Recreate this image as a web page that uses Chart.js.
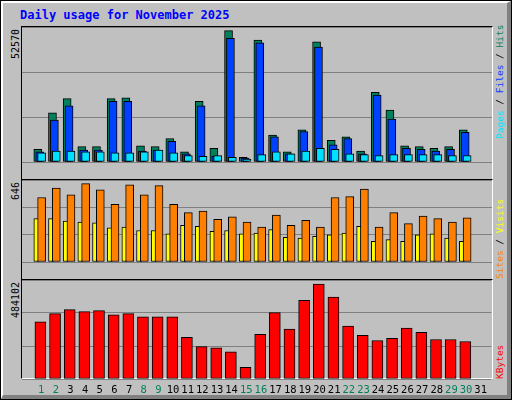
<!DOCTYPE html>
<html><head><meta charset="utf-8">
<script src="https://cdn.jsdelivr.net/npm/chart.js@4/dist/chart.umd.min.js"></script>
<style>
html,body{margin:0;padding:0;}
#wrap{position:relative;width:512px;height:400px;background:#c0c0c0;box-sizing:border-box;border:1px solid #000;overflow:hidden;font-family:"DejaVu Sans Mono",monospace;}
#bevel{position:absolute;left:0;top:0;width:510px;height:398px;box-sizing:border-box;border-top:2px solid #fff;border-left:2px solid #fff;border-right:4px solid #808080;border-bottom:4px solid #808080;}
.panel{position:absolute;left:20px;width:472px;box-sizing:border-box;border-top:1px solid #000;border-left:1px solid #000;border-right:1px solid #fff;border-bottom:1px solid #fff;}
canvas{position:absolute;}
.rot{position:absolute;transform-origin:0 0;transform:rotate(-90deg);white-space:nowrap;font-size:10px;}
.rr{font-size:9.5px;}
#title{position:absolute;left:19px;top:7px;color:#0000ff;font-weight:bold;font-size:12px;}
</style></head><body>
<div id="wrap">
<div id="bevel"></div>
<div id="title">Daily usage for November 2025</div>
<div class="panel" style="top:25px;height:154px"></div>
<div class="panel" style="top:178px;height:101px"></div>
<div class="panel" style="top:278px;height:100px"></div>
<canvas id="c1" width="470" height="152" style="left:21px;top:26px"></canvas>
<canvas id="c2" width="470" height="99" style="left:21px;top:179px"></canvas>
<canvas id="c3" width="470" height="116" style="left:21px;top:279px"></canvas>
<div class="rot" style="left:9px;top:58px">52570</div>
<div class="rot" style="left:9px;top:199px">646</div>
<div class="rot" style="left:9px;top:317px">484102</div>
<div class="rot rr" style="left:493px;top:138px"><span style="color:#00e0ff">Pages</span> / <span style="color:#0040ff">Files</span> / <span style="color:#00805c">Hits</span></div>
<div class="rot rr" style="left:493px;top:278px"><span style="color:#ff8000">Sites</span> / <span style="color:#ffff00">Visits</span></div>
<div class="rot rr" style="left:493px;top:378px"><span style="color:#ff0000">KBytes</span></div>
</div>
<script>
const days = Array.from({length:31},(_,i)=>i+1);
const weekend = [1,2,8,9,15,16,22,23,29,30];
const hits  = [5091,19654,25338,6157,6157,25338,25693,6512,6157,9354,4026,24272,5446,52570,1894,48781,10774,4026,12906,48070,8643,10064,4381,27824,20720,6512,6157,5446,6157,12906];
const files = [4026,16813,22496,4736,4736,24272,24272,4381,4736,8288,3315,22496,2250,49491,1539,47715,10064,3315,12195,45939,6867,9354,3315,26758,17168,5446,5091,4381,5091,11840];
const pages = [3670,4381,4381,4026,4026,3670,3670,4026,4736,3670,2605,2250,2605,1894,1184,2960,4026,3315,4381,5446,5091,3315,2960,2605,2960,2960,2960,2960,2605,2605];
const sites = [532,609,553,646,595,476,636,553,630,476,407,420,351,372,330,288,386,302,344,288,532,539,602,288,407,316,379,358,330,365];
const visits= [358,358,337,330,323,281,288,260,260,232,302,295,253,260,232,239,267,204,197,211,225,239,295,170,184,170,225,232,197,170];
const kbytes= [291164,333260,354308,343784,349046,327998,333260,317474,317474,317474,212234,164876,159614,138566,59636,228020,338522,254330,401666,484102,417452,270116,222758,196448,206972,259592,238544,201710,201710,191186];

const XMIN=0.31, XMAX=31.31;
function pts(arr,off){return arr.map((v,i)=>({x:days[i]+off,y:v}));}
function ds(arr,off,color,w){return {data:pts(arr,off),backgroundColor:color,borderColor:'#000',borderWidth:1,barThickness:w,borderSkipped:false,grouped:false};}
function yScale(max){return {min:0,max:max,ticks:{display:false,stepSize:max/3},grid:{color:'#808080',drawTicks:false,lineWidth:1},border:{display:false},afterFit:s=>{s.width=0;}};}
function opts(max,showX){return {responsive:false,animation:false,events:[],layout:{padding:0},
  plugins:{legend:{display:false},tooltip:{enabled:false}},
  scales:{x:{type:'linear',min:XMIN,max:XMAX,display:showX,grid:{display:false,drawTicks:false,tickLength:0},border:{display:false},
    afterBuildTicks:s=>{s.ticks=days.map(d=>({value:d+0.1}));},
    afterFit:s=>{s.height=17;},
    ticks:{autoSkip:false,maxRotation:0,padding:5,font:{family:'DejaVu Sans Mono',size:10.5},
      callback:(v,i)=>String(days[i]),color:c=>weekend.includes(days[c.index])?'#00805c':'#000'}},
  y:yScale(max)}};}
Chart.defaults.font.family='DejaVu Sans Mono';
new Chart(document.getElementById('c1'),{type:'bar',data:{datasets:[
  ds(pages,0.13,'#00e0ff',8),ds(files,0,'#0040ff',8),ds(hits,-0.13,'#00805c',8)]},options:opts(54000,false)});
new Chart(document.getElementById('c2'),{type:'bar',data:{datasets:[
  ds(sites,0.13,'#ff8000',8),ds(visits,-0.23,'#ffff00',5)]},options:opts(676,false)});
new Chart(document.getElementById('c3'),{type:'bar',data:{datasets:[
  ds(kbytes,0.05,'#ff0000',11)]},options:opts(505150,true)});
</script>
</body></html>
